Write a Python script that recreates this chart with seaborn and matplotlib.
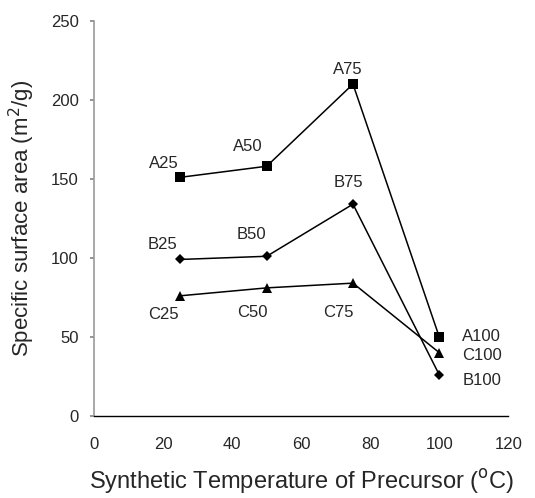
import matplotlib
matplotlib.use("Agg")
import matplotlib.pyplot as plt
import seaborn as sns
import pandas as pd

temps = [25, 50, 75, 100]
series_a = [151, 158, 210, 50]
series_b = [99, 101, 134, 26]
series_c = [76, 81, 84, 40]
names_a = ["A25", "A50", "A75", "A100"]
names_b = ["B25", "B50", "B75", "B100"]
names_c = ["C25", "C50", "C75", "C100"]

sns.set_theme(style="white")
plt.rcParams['font.family'] = ['Liberation Sans', 'DejaVu Sans']

rows = []
for s, vals in (("A", series_a), ("B", series_b), ("C", series_c)):
    for t, v in zip(temps, vals):
        rows.append({"T": t, "S": v, "series": s})
df = pd.DataFrame(rows)

fig = plt.figure(figsize=(5.35, 4.98), dpi=100)
ax = fig.add_axes([0.176, 0.165, 0.774, 0.793])

sns.lineplot(data=df, x="T", y="S", hue="series", style="series",
             palette=["black", "black", "black"],
             markers={"A": "s", "B": "D", "C": "^"}, dashes=False,
             markersize=7, linewidth=1.1, markeredgewidth=0,
             legend=False, ax=ax)
for line, ms in zip(ax.get_lines(), [7, 5, 7.5]):
    line.set_markersize(ms)

ax.set_xlim(0, 120)
ax.set_ylim(0, 250)
ax.set_xticks(range(0, 121, 20))
ax.set_yticks(range(0, 251, 50))
ax.tick_params(axis='y', labelsize=12, length=3, color='#888888', pad=8, left=True)
ax.tick_params(axis='x', labelsize=12, length=0, pad=15)
for sp in ["top", "right"]:
    ax.spines[sp].set_visible(False)
ax.spines["left"].set_color("#999999")
ax.spines["left"].set_linewidth(1.2)
ax.spines["bottom"].set_color("black")
ax.spines["bottom"].set_linewidth(1.0)

ax.set_xlabel("Synthetic Temperature of Precursor ($^{\\rm o}$C)", fontsize=17, labelpad=11)
ax.set_ylabel("Specific surface area (m$^{2}$/g)", fontsize=16, labelpad=10)

fs = 12
def lab(t, v, n, dx, dy, ha, va):
    ax.annotate(n, (t, v), xytext=(dx, dy), textcoords="offset pixels",
                ha=ha, va=va, fontsize=fs)

# A series labels
lab(temps[0], series_a[0], names_a[0], -2, 6, "right", "bottom")
lab(temps[1], series_a[1], names_a[1], -4, 12, "right", "bottom")
lab(temps[2], series_a[2], names_a[2], -5, 7, "center", "bottom")
lab(temps[3], series_a[3], names_a[3], 23, 0, "left", "center")
# B series labels
lab(temps[0], series_b[0], names_b[0], -3, 7, "right", "bottom")
lab(temps[1], series_b[1], names_b[1], 0, 14, "right", "bottom")
lab(temps[2], series_b[2], names_b[2], -5, 14, "center", "bottom")
lab(temps[3], series_b[3], names_b[3], 23, -6, "left", "center")
# C series labels
lab(temps[0], series_c[0], names_c[0], -17, -11, "center", "top")
lab(temps[1], series_c[1], names_c[1], -14, -17, "center", "top")
lab(temps[2], series_c[2], names_c[2], -15, -22, "center", "top")
lab(temps[3], series_c[3], names_c[3], 23, -3, "left", "center")

fig.savefig("out.png", dpi=100)
